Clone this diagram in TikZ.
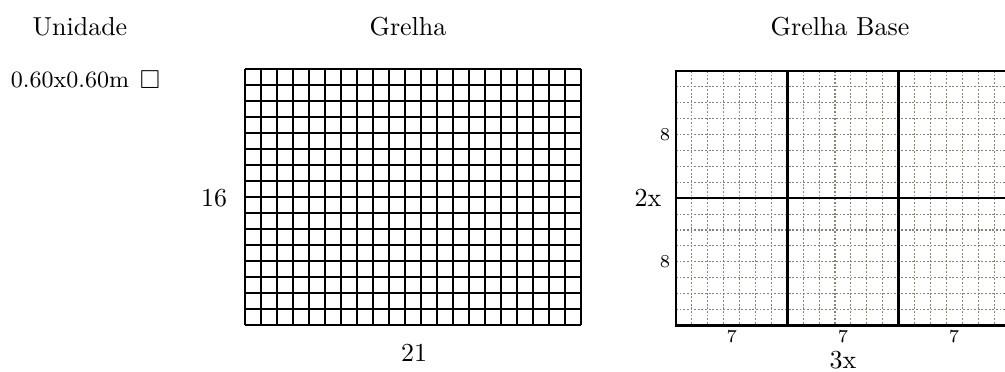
\documentclass[tikz,border=0pt]{standalone}
\usepackage{amsmath}
\usepackage{amssymb}
\usepackage{tikz}

\begin{document}
\begin{tikzpicture}[x=0.385pt,y=0.385pt,yscale=-1]
\path[use as bounding box] (0,0) rectangle (1005,372);

% Text Node
\node (unidade) at (80,27) {Unidade};
% Text Node
\node (grelha) at (408,27) {Grelha};
% Text Node
\node (grelhabase) at (840,27) {Grelha Base};
% Text Node
\node (medida) at (70,80) {\small 0.60x0.60m};
% Text Node
\node (quadrado) at (150,79.5) {$\square$};

%Grelha 21x16
\foreach \i in {0,...,21} \draw (245+16*\i,69) -- (245+16*\i,325);
\foreach \j in {0,...,16} \draw (245,69+16*\j) -- (581,69+16*\j);
% Text Node
\node (linhas) at (214,198) {16};
% Text Node
\node (colunas) at (414,353) {21};

%Grelha Base 3x2 blocos de 7x8
\foreach \i in {0,...,21} \draw [color=gray!80!brown,line width=0.4pt,dash pattern=on 0.7pt off 0.7pt] (676+15.9*\i,71) -- (676+15.9*\i,325.4);
\foreach \j in {0,...,16} \draw [color=gray!80!brown,line width=0.4pt,dash pattern=on 0.7pt off 0.7pt] (676,71+15.9*\j) -- (1009.9,71+15.9*\j);
\draw [line width=1pt] (676,71) rectangle (1009.9,325.4);
\foreach \i in {7,14} \draw [line width=1pt] (676+15.9*\i,71) -- (676+15.9*\i,325.4);
\draw [line width=1pt] (676,198.2) -- (1009.9,198.2);
% Text Node
\node (oito1) at (665,134.6) {\scriptsize 8};
% Text Node
\node (oito2) at (665,261.8) {\scriptsize 8};
% Text Node
\node (doisx) at (648,198) {2x};
% Text Node
\node (sete1) at (731.7,337) {\scriptsize 7};
% Text Node
\node (sete2) at (843,337) {\scriptsize 7};
% Text Node
\node (sete3) at (954,337) {\scriptsize 7};
% Text Node
\node (tresx) at (843,360) {3x};

\end{tikzpicture}
\end{document}
